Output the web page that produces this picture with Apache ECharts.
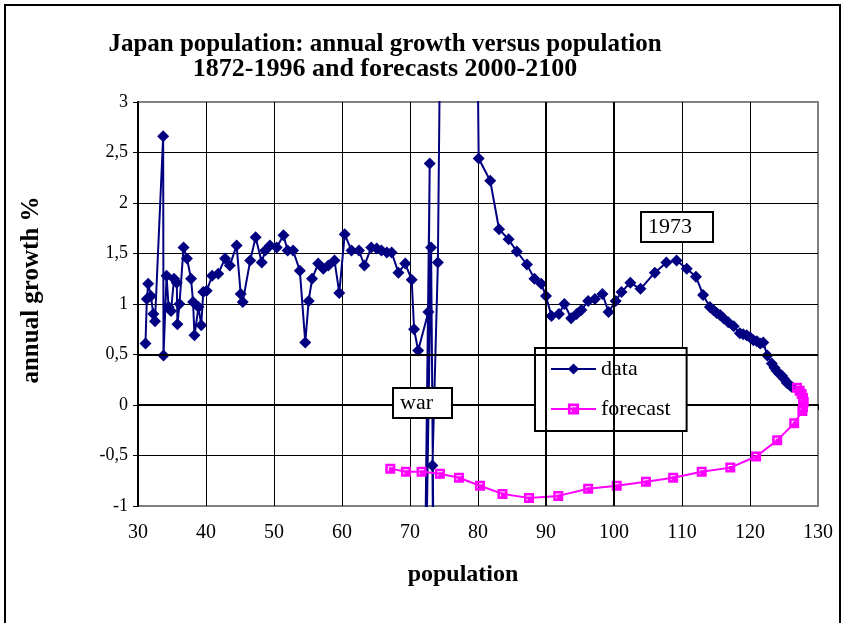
<!DOCTYPE html>
<html>
<head>
<meta charset="utf-8">
<script src="https://cdn.jsdelivr.net/npm/echarts@6/dist/echarts.min.js"></script>
<style>
html,body{margin:0;padding:0;background:#fff;}
#chart{width:846px;height:623px;}
</style>
</head>
<body>
<div id="chart"></div>
<script>
// ---- data (population in millions, annual growth %) ----
var dataPop = [31.1,31.3,31.5,31.9,32.25,32.5,33.7,33.75,34.2,34.5,34.85,35.3,35.7,35.8,36.1,36.7,37.2,37.8,38.1,38.3,38.9,39.3,39.6,40.1,40.9,41.8,42.8,43.5,44.5,45.1,45.4,46.5,47.3,48.2,48.7,49.4,50.4,51.4,52.0,52.8,53.8,54.6,55.1,55.6,56.5,57.25,58.0,58.9,59.6,60.4,61.4,62.5,63.3,64.3,65.1,65.8,66.6,67.3,68.3,69.3,70.25,70.6,71.2,72.7,72.9,71.8,73.1,73.7,73.3,74.1,74.7,79.5,80.1,81.8,83.1,84.5,85.7,87.2,88.3,89.3,90.0,90.8,91.9,92.7,93.7,94.5,95.2,96.2,97.2,98.3,99.2,100.25,101.1,102.4,103.9,106.0,107.7,109.2,110.7,112.05,113.1,114.1,114.6,115.1,115.6,116.1,116.8,117.6,118.5,119.0,119.5,120.0,120.5,121.0,121.5,121.95,122.55,123.2,123.6,123.9,124.3,124.7,125.0,125.4,125.8,126.1];
var dataGrowth = [0.61,1.05,1.20,1.08,0.90,0.83,2.66,0.49,1.28,0.97,0.93,1.25,1.21,0.80,1.00,1.56,1.45,1.25,1.02,0.69,0.97,0.79,1.12,1.13,1.28,1.30,1.45,1.38,1.58,1.10,1.02,1.43,1.66,1.41,1.53,1.58,1.56,1.68,1.53,1.53,1.33,0.62,1.03,1.25,1.40,1.35,1.38,1.43,1.11,1.69,1.53,1.53,1.38,1.56,1.55,1.53,1.51,1.51,1.31,1.40,1.24,0.75,0.54,0.92,2.39,-4.0,1.56,-3.5,-0.60,1.41,5.5,6.5,2.44,2.22,1.74,1.64,1.52,1.39,1.25,1.20,1.08,0.88,0.90,1.00,0.86,0.90,0.94,1.03,1.05,1.10,0.92,1.03,1.12,1.21,1.15,1.31,1.41,1.43,1.35,1.27,1.09,0.97,0.94,0.91,0.89,0.86,0.82,0.78,0.71,0.70,0.69,0.67,0.64,0.63,0.61,0.62,0.49,0.41,0.37,0.34,0.31,0.29,0.26,0.22,0.20,0.18];
var forecastPop = [126.9,127.3,127.6,127.8,127.9,127.8,127.7,126.5,124.0,120.9,117.1,112.9,108.7,104.7,100.4,96.2,91.8,87.5,83.6,80.3,77.2,74.4,71.7,69.4,67.1];
var forecastGrowth = [0.17,0.14,0.11,0.07,0.03,-0.02,-0.06,-0.18,-0.35,-0.51,-0.62,-0.66,-0.72,-0.76,-0.80,-0.83,-0.90,-0.92,-0.88,-0.80,-0.72,-0.68,-0.66,-0.66,-0.63];
var xTicks = [30,40,50,60,70,80,90,100,110,120,130];
var yTicks = [-1,-0.5,0,0.5,1,1.5,2,2.5,3];
var seriesNames = ['data','forecast'];
var titleLines = ['Japan population: annual growth versus population','1872-1996 and forecasts 2000-2100'];
var xName = 'population';
var yName = 'annual growth %';
var notes = ['war','1973'];

function zip(a,b){var r=[];for(var i=0;i<a.length;i++)r.push([a[i],b[i]]);return r;}

var FONT = "'Liberation Serif','Times New Roman',serif";
var chart = echarts.init(document.getElementById('chart'), null, {renderer:'canvas'});
var sqSymbol = 'path://M0,0H10V10H0Z M2.5,2.5V7.5H3.5V3.5H7.5V2.5Z';

chart.setOption({
  animation:false,
  backgroundColor:'#fff',
  textStyle:{fontFamily:FONT,color:'#000'},
  title:{
    text:'{a|'+titleLines[0]+'}\n{b|'+titleLines[1]+'}',
    left:380, top:28, textAlign:'center',
    textStyle:{fontFamily:FONT,fontWeight:'bold',fontSize:25,lineHeight:24,color:'#000',
      rich:{
        a:{fontFamily:FONT,fontWeight:'bold',fontSize:25,lineHeight:24,color:'#000'},
        b:{fontFamily:FONT,fontWeight:'bold',fontSize:26,lineHeight:24,color:'#000'}
      }}
  },
  grid:{left:138,right:28,top:102,bottom:117,show:true,borderColor:'#808080',borderWidth:2,backgroundColor:'transparent'},
  legend:{
    data:seriesNames,
    orient:'vertical',
    left:535, top:348,
    padding:[10,16,11,15],
    itemGap:18,
    itemWidth:45, itemHeight:14,
    backgroundColor:'#fff',
    borderColor:'#000', borderWidth:2, borderRadius:0,
    textStyle:{fontFamily:FONT,fontSize:22,color:'#000'}
  },
  xAxis:[{
    type:'value', min:xTicks[0], max:xTicks[xTicks.length-1], interval:10,
    position:'bottom',
    name:xName, nameLocation:'middle', nameGap:57,
    nameTextStyle:{fontFamily:FONT,fontWeight:'bold',fontSize:24,color:'#000',padding:[0,30,0,0]},
    axisLine:{show:false,onZero:false},
    axisTick:{show:false},
    axisLabel:{fontFamily:FONT,fontSize:20,color:'#000',margin:17},
    splitLine:{show:true,showMaxLine:false,lineStyle:{color:'#000',width:1}}
  },{
    type:'value', min:xTicks[0], max:xTicks[xTicks.length-1], interval:10,
    position:'top',
    axisLine:{show:true,onZero:true,lineStyle:{color:'#000',width:2}},
    axisTick:{show:true,inside:true,length:5,lineStyle:{color:'#000',width:1}},
    axisLabel:{show:false},
    splitLine:{show:false}
  }],
  yAxis:{
    type:'value', min:yTicks[0], max:yTicks[yTicks.length-1], interval:0.5,
    name:yName, nameLocation:'middle', nameGap:94, nameRotate:90,
    nameTextStyle:{fontFamily:FONT,fontWeight:'bold',fontSize:25,color:'#000',padding:[0,0,0,28]},
    axisLine:{show:true,onZero:false,lineStyle:{color:'#000',width:2}},
    axisTick:{show:true,length:5,lineStyle:{color:'#000'}},
    axisLabel:{fontFamily:FONT,fontSize:18,color:'#000',margin:10,
      formatter:function(v){return String(v).replace('.',',');}},
    splitLine:{show:true,showMaxLine:false,showMinLine:false,lineStyle:{color:'#000',width:1}}
  },
  series:[{
    type:'line', data:[], z:1, silent:true,
    markLine:{silent:true,symbol:'none',label:{show:false},animation:false,
      lineStyle:{color:'#000',width:2,type:'solid'},
      data:[{yAxis:0.5},{xAxis:90},{xAxis:100}]}
  },{
    name:seriesNames[0], type:'line', z:3,
    data:zip(dataPop,dataGrowth),
    symbol:'diamond', symbolSize:12,
    itemStyle:{color:'#000080'},
    lineStyle:{color:'#000080',width:2}
  },{
    name:seriesNames[1], type:'line', z:4,
    data:zip(forecastPop,forecastGrowth),
    symbol:sqSymbol, symbolSize:10,
    itemStyle:{color:'#ff00ff'},
    lineStyle:{color:'#ff00ff',width:2}
  }],
  graphic:[
    {type:'rect', z:0, silent:true, shape:{x:5,y:5,width:835,height:650}, style:{fill:'none',stroke:'#000',lineWidth:2}},
    {type:'rect', z:20, shape:{x:393,y:388,width:59,height:30}, style:{fill:'#fff',stroke:'#000',lineWidth:2}},
    {type:'text', z:21, x:400, y:403, style:{text:notes[0],font:"22px "+FONT,fill:'#000',verticalAlign:'middle'}},
    {type:'rect', z:20, shape:{x:641,y:212,width:72,height:30}, style:{fill:'#fff',stroke:'#000',lineWidth:2}},
    {type:'text', z:21, x:648, y:227, style:{text:notes[1],font:"22px "+FONT,fill:'#000',verticalAlign:'middle'}}
  ]
});
</script>
</body>
</html>
